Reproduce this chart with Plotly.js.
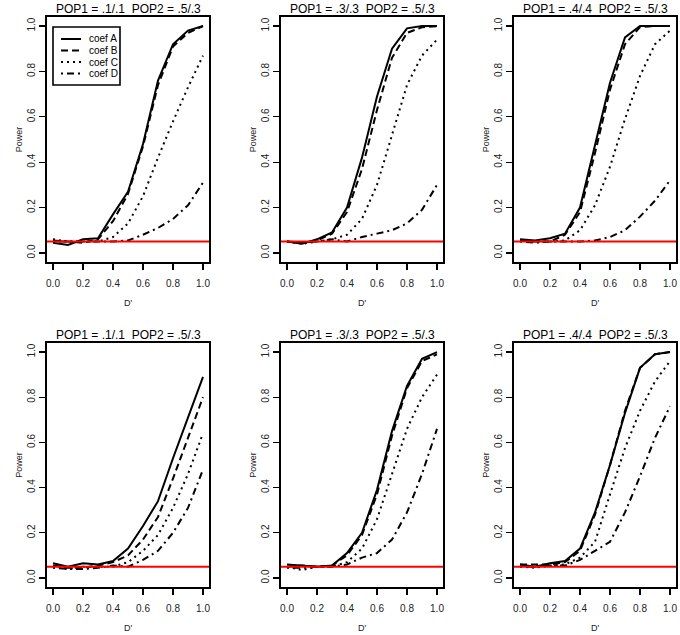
<!DOCTYPE html>
<html>
<head>
<meta charset="utf-8">
<script src="https://cdn.plot.ly/plotly-3.0.1.min.js"></script>
<style>
  body { margin: 0; background: #fff; }
  #chart { width: 680px; height: 635px; }
</style>
</head>
<body>
<div id="chart"></div>
<script>
// D' values on the x axis
var dPrime = [0, 0.1, 0.2, 0.3, 0.4, 0.5, 0.6, 0.7, 0.8, 0.9, 1.0];

var coefNames = ['coef A', 'coef B', 'coef C', 'coef D'];

var panelTitles = [
  'POP1 = .1/.1  POP2 = .5/.3',
  'POP1 = .3/.3  POP2 = .5/.3',
  'POP1 = .4/.4  POP2 = .5/.3',
  'POP1 = .1/.1  POP2 = .5/.3',
  'POP1 = .3/.3  POP2 = .5/.3',
  'POP1 = .4/.4  POP2 = .5/.3'
];

// power per panel, rows = coef A, B, C, D
var panel1 = [
  [0.045, 0.035, 0.060, 0.065, 0.170, 0.270, 0.480, 0.760, 0.920, 0.980, 1.000],
  [0.055, 0.050, 0.045, 0.060, 0.140, 0.260, 0.470, 0.740, 0.910, 0.970, 1.000],
  [0.060, 0.050, 0.050, 0.050, 0.070, 0.130, 0.250, 0.420, 0.580, 0.730, 0.870],
  [0.050, 0.050, 0.050, 0.050, 0.050, 0.055, 0.080, 0.110, 0.150, 0.210, 0.310]
];
var panel2 = [
  [0.050, 0.040, 0.060, 0.090, 0.200, 0.420, 0.690, 0.900, 0.990, 1.000, 1.000],
  [0.050, 0.045, 0.055, 0.085, 0.180, 0.370, 0.630, 0.860, 0.970, 0.995, 1.000],
  [0.050, 0.040, 0.050, 0.060, 0.080, 0.150, 0.300, 0.520, 0.740, 0.870, 0.940],
  [0.050, 0.045, 0.050, 0.060, 0.050, 0.070, 0.085, 0.100, 0.130, 0.190, 0.300]
];
var panel3 = [
  [0.060, 0.055, 0.065, 0.085, 0.200, 0.480, 0.750, 0.950, 1.000, 1.000, 1.000],
  [0.055, 0.050, 0.050, 0.080, 0.180, 0.440, 0.720, 0.920, 0.995, 1.000, 1.000],
  [0.055, 0.050, 0.050, 0.055, 0.100, 0.210, 0.380, 0.590, 0.780, 0.920, 0.980],
  [0.050, 0.045, 0.050, 0.050, 0.050, 0.055, 0.070, 0.100, 0.160, 0.230, 0.320]
];
var panel4 = [
  [0.065, 0.050, 0.065, 0.060, 0.075, 0.130, 0.230, 0.340, 0.530, 0.710, 0.890],
  [0.055, 0.045, 0.045, 0.055, 0.070, 0.100, 0.170, 0.270, 0.440, 0.620, 0.800],
  [0.050, 0.040, 0.050, 0.050, 0.050, 0.070, 0.120, 0.190, 0.310, 0.460, 0.640],
  [0.045, 0.040, 0.040, 0.045, 0.055, 0.050, 0.080, 0.120, 0.200, 0.310, 0.480]
];
var panel5 = [
  [0.060, 0.055, 0.050, 0.055, 0.110, 0.200, 0.390, 0.650, 0.850, 0.970, 1.000],
  [0.050, 0.055, 0.050, 0.055, 0.100, 0.190, 0.370, 0.630, 0.840, 0.960, 0.990],
  [0.050, 0.035, 0.050, 0.050, 0.070, 0.130, 0.260, 0.460, 0.660, 0.800, 0.900],
  [0.045, 0.045, 0.050, 0.050, 0.060, 0.090, 0.110, 0.170, 0.290, 0.460, 0.660]
];
var panel6 = [
  [0.060, 0.050, 0.065, 0.075, 0.130, 0.290, 0.500, 0.730, 0.930, 0.990, 1.000],
  [0.060, 0.060, 0.060, 0.070, 0.120, 0.280, 0.500, 0.740, 0.930, 0.990, 1.000],
  [0.050, 0.045, 0.055, 0.060, 0.090, 0.160, 0.370, 0.575, 0.740, 0.870, 0.960],
  [0.050, 0.050, 0.055, 0.055, 0.080, 0.120, 0.160, 0.290, 0.450, 0.620, 0.760]
];

var alpha = 0.05;

var panels = [panel1, panel2, panel3, panel4, panel5, panel6];

// R style line types: solid, dashed, dotted, dotdash
var dashes = ['solid', '7px,4px', '2px,4px', '2px,4px,7px,4px'];

// plot boxes in pixels (left, right) and (top, bottom)
var W = 680, H = 635;
var cols = [[47, 209], [281, 443], [514, 676]];
var rows = [[17, 262], [343, 587]];

function px(x) { return x / W; }
function py(y) { return 1 - y / H; }

var font = 'Liberation Sans, Arial, Helvetica, sans-serif';

var traces = [];
var layout = {
  width: W,
  height: H,
  margin: {l: 0, r: 0, t: 0, b: 0},
  paper_bgcolor: '#fff',
  plot_bgcolor: '#fff',
  font: {family: font, color: '#000', size: 10},
  showlegend: false,
  annotations: [],
  shapes: []
};

panels.forEach(function (panel, p) {
  var r = Math.floor(p / 3), c = p % 3;
  var n = p + 1;
  var xa = 'xaxis' + (n === 1 ? '' : n), ya = 'yaxis' + (n === 1 ? '' : n);
  var xr = 'x' + (n === 1 ? '' : n), yr = 'y' + (n === 1 ? '' : n);
  var xdom = [px(cols[c][0]), px(cols[c][1])];
  var ydom = [py(rows[r][1]), py(rows[r][0])];

  layout[xa] = {
    domain: xdom, anchor: yr, range: [-0.04, 1.04],
    tickvals: [0, 0.2, 0.4, 0.6, 0.8, 1.0], tickformat: '.1f',
    ticks: 'outside', ticklen: 6, tickwidth: 1.3, tickcolor: '#000',
    ticklabelstandoff: 5,
    showline: true, mirror: true, linewidth: 1.8, linecolor: '#000',
    showgrid: false, zeroline: false,
    tickfont: {size: 10, color: '#222'},
    title: {text: "D'", font: {size: 9, color: '#222'}, standoff: 12}
  };
  layout[ya] = {
    domain: ydom, anchor: xr, range: [-0.04, 1.04],
    tickvals: [0, 0.2, 0.4, 0.6, 0.8, 1.0], tickformat: '.1f',
    ticks: 'outside', ticklen: 6, tickwidth: 1.3, tickcolor: '#000',
    tickangle: -90,
    showline: true, mirror: true, linewidth: 1.8, linecolor: '#000',
    showgrid: false, zeroline: false,
    tickfont: {size: 10, color: '#222'},
    title: {text: 'Power', font: {size: 9, color: '#222'}, standoff: 2}
  };

  panel.forEach(function (vals, k) {
    traces.push({
      type: 'scatter', mode: 'lines',
      x: dPrime, y: vals,
      xaxis: xr, yaxis: yr,
      name: coefNames[k],
      line: {color: '#000', width: 2, dash: dashes[k]},
      hoverinfo: 'skip'
    });
  });

  // significance level line
  layout.shapes.push({
    type: 'line', xref: xr + ' domain', yref: yr,
    x0: 0, x1: 1, y0: alpha, y1: alpha,
    line: {color: '#ff0000', width: 2}
  });

  layout.annotations.push({
    text: panelTitles[p], showarrow: false,
    xref: 'paper', yref: 'paper',
    x: (xdom[0] + xdom[1]) / 2, y: ydom[1],
    xanchor: 'center', yanchor: 'bottom', yshift: -1,
    font: {size: 12, color: '#000'}
  });
});

// R style legend box in the first panel
var leg = {left: 53, right: 120, top: 27, bottom: 85, row0: 39, step: 11.5, lineL: 61, lineR: 81, textL: 87};
layout.shapes.push({
  type: 'rect', xref: 'paper', yref: 'paper',
  x0: px(leg.left), x1: px(leg.right), y0: py(leg.bottom), y1: py(leg.top),
  fillcolor: '#fff', line: {color: '#000', width: 1.6}
});
coefNames.forEach(function (name, k) {
  var yy = py(leg.row0 + k * leg.step);
  layout.shapes.push({
    type: 'line', xref: 'paper', yref: 'paper',
    x0: px(leg.lineL), x1: px(leg.lineR), y0: yy, y1: yy,
    line: {color: '#000', width: 2, dash: dashes[k]}
  });
  layout.annotations.push({
    text: name, showarrow: false, xref: 'paper', yref: 'paper',
    x: px(leg.textL), y: yy, xanchor: 'left', yanchor: 'middle',
    font: {size: 10, color: '#000'}
  });
});

Plotly.newPlot('chart', traces, layout, {staticPlot: true});
</script>
</body>
</html>
